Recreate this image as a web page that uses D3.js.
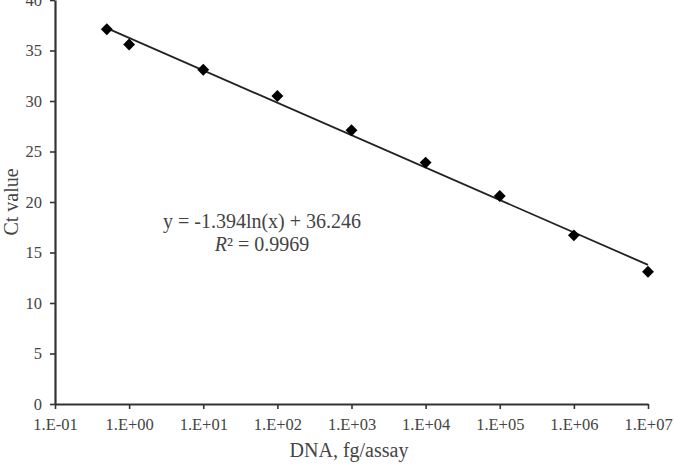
<!DOCTYPE html>
<html>
<head>
<meta charset="utf-8">
<script src="https://cdn.jsdelivr.net/npm/d3@7"></script>
<style>
  body { margin: 0; background: #fff; }
  text { font-family: "Liberation Serif", "DejaVu Serif", serif; }
</style>
</head>
<body>
<div id="chart-container"></div>
<script>
// measured points
var dna = [0.5, 1, 10, 100, 1000, 10000, 100000, 1000000, 10000000];
var ct = [37.1, 35.6, 33.1, 30.5, 27.1, 23.9, 20.6, 16.7, 13.1];

// fitted log trendline, y = a ln(x) + b
var fit_a = -1.394;
var fit_b = 36.246;

var x_ticks = [1e-1, 1e0, 1e1, 1e2, 1e3, 1e4, 1e5, 1e6, 1e7];
var y_ticks = [0, 5, 10, 15, 20, 25, 30, 35, 40];

var width = 674;
var height = 465;
var margin = {top: 0, right: 26, bottom: 61, left: 55};
var axis_color = "#333";
var text_color = "#444";

var svg = d3.select("#chart-container")
    .append("svg")
    .attr("width", width)
    .attr("height", height);

var x = d3.scaleLog()
    .domain([1e-1, 1e7])
    .range([margin.left, width - margin.right]);

var y = d3.scaleLinear()
    .domain([0, 40])
    .range([height - margin.bottom, margin.top]);

//format 1.E+03 style like excel does
function sciLabel(d) {
    var e = Math.round(Math.log10(d));
    var s = e < 0 ? "-" : "+";
    return "1.E" + s + String(Math.abs(e)).padStart(2, "0");
}

var xAxis = svg.append("g")
    .attr("transform", "translate(0," + y(0) + ")")
    .call(d3.axisBottom(x).tickValues(x_ticks).tickFormat(sciLabel).tickSize(5).tickSizeOuter(0));

var yAxis = svg.append("g")
    .attr("transform", "translate(" + x(1e-1) + ",0)")
    .call(d3.axisLeft(y).tickValues(y_ticks).tickSize(5).tickSizeOuter(0));

[xAxis, yAxis].forEach(function(g) {
    g.select(".domain").attr("stroke", axis_color).attr("stroke-width", 2.2);
    g.selectAll(".tick line").attr("stroke", axis_color).attr("stroke-width", 1.6);
    g.selectAll(".tick text")
        .attr("fill", text_color)
        .style("font-size", "16.5px")
        .style("font-family", "'Liberation Serif', serif");
});
xAxis.selectAll(".tick text").attr("dy", "1.1em");
yAxis.selectAll(".tick text").attr("x", -13);

// trendline
var line = d3.line()
    .x(function(d) { return x(d); })
    .y(function(d) { return y(fit_a * Math.log(d) + fit_b); });

svg.append("path")
    .datum([dna[0], dna[dna.length - 1]])
    .attr("d", line)
    .attr("fill", "none")
    .attr("stroke", "#222")
    .attr("stroke-width", 1.8);

// diamond markers
svg.selectAll(".pt")
    .data(dna)
    .enter()
    .append("path")
    .attr("class", "pt")
    .attr("d", d3.symbol().type(d3.symbolDiamond2).size(90))
    .attr("transform", function(d, i) { return "translate(" + x(d) + "," + y(ct[i]) + ")"; })
    .attr("fill", "#000");

// equation labels
svg.append("text")
    .attr("x", 262)
    .attr("y", 228)
    .attr("text-anchor", "middle")
    .attr("fill", text_color)
    .style("font-size", "20px")
    .text("y = -1.394ln(x) + 36.246");

var r2 = svg.append("text")
    .attr("x", 262)
    .attr("y", 251)
    .attr("text-anchor", "middle")
    .attr("fill", text_color)
    .style("font-size", "20px");
r2.append("tspan").style("font-style", "italic").text("R");
r2.append("tspan").text("² = 0.9969");

// axis titles
svg.append("text")
    .attr("x", 349)
    .attr("y", 457)
    .attr("text-anchor", "middle")
    .attr("fill", text_color)
    .style("font-size", "20px")
    .text("DNA, fg/assay");

svg.append("text")
    .attr("transform", "translate(18," + 202 + ") rotate(-90)")
    .attr("text-anchor", "middle")
    .attr("fill", text_color)
    .style("font-size", "20px")
    .text("Ct value");
</script>
</body>
</html>
